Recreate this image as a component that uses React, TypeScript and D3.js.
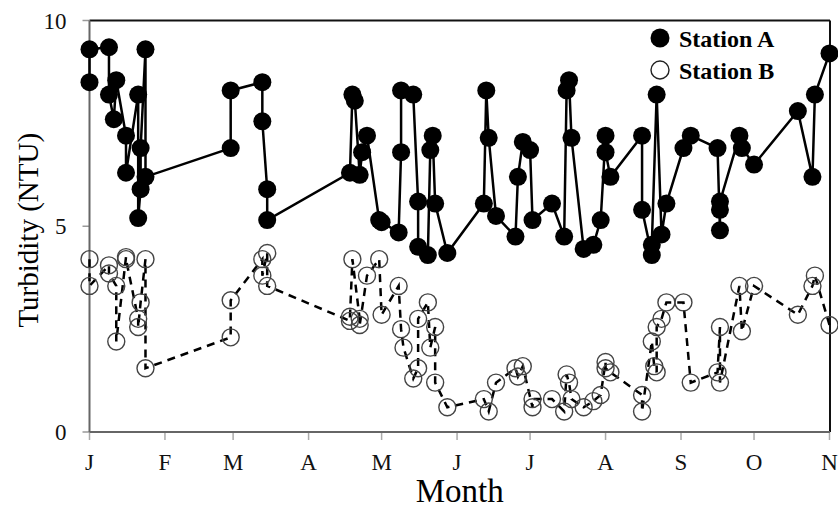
import { useMemo } from 'react';
import * as d3 from 'd3';

// sample dates (MM-DD, one year) and turbidity readings
const stationADates = [
  '01-01', '01-01', '01-09', '01-09', '01-11', '01-12', '01-16', '01-16', '01-21', '01-21',
  '01-22', '01-22', '01-24', '01-24', '02-28', '02-28', '03-13', '03-13', '03-15', '03-15',
  '04-18', '04-19', '04-20', '04-22', '04-23', '04-25', '04-30', '05-01', '05-08', '05-09',
  '05-09', '05-14', '05-16', '05-16', '05-20', '05-21', '05-22', '05-23', '05-28', '06-12',
  '06-13', '06-14', '06-17', '06-25', '06-26', '06-28', '07-01', '07-02', '07-10', '07-15',
  '07-16', '07-17', '07-18', '07-23', '07-27', '07-30', '08-01', '08-01', '08-03', '08-16',
  '08-16', '08-20', '08-20', '08-22', '08-24', '08-26', '09-02', '09-05', '09-16', '09-17',
  '09-17', '09-17', '09-25', '09-26', '10-01', '10-19', '10-25', '10-26', '11-01',
];
const stationAValues = [
  8.5, 9.3, 9.35, 8.2, 7.6, 8.55, 7.2, 6.3, 8.2, 5.2,
  5.9, 6.9, 9.3, 6.2, 6.9, 8.3, 8.5, 7.55, 5.9, 5.15,
  6.3, 8.2, 8.05, 6.25, 6.8, 7.2, 5.15, 5.1, 4.85, 6.8,
  8.3, 8.2, 5.6, 4.5, 4.3, 6.85, 7.2, 5.55, 4.35, 5.55,
  8.3, 7.15, 5.25, 4.75, 6.2, 7.05, 6.85, 5.15, 5.55, 4.75,
  8.3, 8.55, 7.15, 4.45, 4.55, 5.15, 7.2, 6.8, 6.2, 7.2,
  5.4, 4.3, 4.55, 8.2, 4.8, 5.55, 6.9, 7.2, 6.9, 4.9,
  5.4, 5.6, 7.2, 6.9, 6.5, 7.8, 6.2, 8.2, 9.2,
];

const stationBDates = [
  '01-01', '01-01', '01-09', '01-09', '01-12', '01-12', '01-16', '01-16', '01-21', '01-21',
  '01-22', '01-24', '01-24', '02-28', '02-28', '03-13', '03-13', '03-15', '03-15', '04-18',
  '04-18', '04-19', '04-22', '04-22', '04-25', '04-30', '05-01', '05-08', '05-09', '05-10',
  '05-14', '05-16', '05-16', '05-20', '05-21', '05-23', '05-23', '05-28', '06-12', '06-14',
  '06-17', '06-25', '06-26', '06-28', '07-02', '07-02', '07-10', '07-15', '07-16', '07-17',
  '07-18', '07-23', '07-27', '07-30', '08-01', '08-01', '08-03', '08-16', '08-16', '08-20',
  '08-21', '08-22', '08-22', '08-24', '08-26', '09-02', '09-05', '09-16', '09-17', '09-17',
  '09-25', '09-26', '10-01', '10-19', '10-25', '10-26', '11-01',
];
const stationBValues = [
  4.2, 3.55, 4.05, 3.85, 3.55, 2.2, 4.25, 4.2, 2.75, 2.55,
  3.15, 4.2, 1.55, 2.3, 3.2, 4.2, 3.8, 4.35, 3.55, 2.7,
  2.8, 4.2, 2.75, 2.6, 3.8, 4.2, 2.85, 3.55, 2.5, 2.05,
  1.3, 1.55, 2.75, 3.15, 2.05, 2.55, 1.2, 0.6, 0.8, 0.5,
  1.2, 1.55, 1.35, 1.6, 0.6, 0.8, 0.8, 0.5, 1.4, 1.2,
  0.8, 0.6, 0.75, 0.9, 1.7, 1.55, 1.45, 0.9, 0.5, 2.2,
  1.6, 1.45, 2.55, 2.75, 3.15, 3.15, 1.2, 1.45, 2.55, 1.2,
  3.55, 2.45, 3.55, 2.85, 3.55, 3.8, 2.6,
];

const yTicks = [0, 5, 10];
const monthLetters = ['J', 'F', 'M', 'A', 'M', 'J', 'J', 'A', 'S', 'O', 'N'];

const width = 838;
const height = 510;
const margin = { top: 20.5, right: 8, bottom: 78, left: 89.5 };
const font = '"Liberation Serif", "Times New Roman", serif';

type Point = { date: Date; value: number };

const parseDay = d3.timeParse('%Y-%m-%d');
const toPoints = (dates: string[], values: number[]): Point[] =>
  dates.map((d, i) => ({ date: parseDay(`2011-${d}`) as Date, value: values[i] }));

export default function App() {
  const seriesA = useMemo(() => toPoints(stationADates, stationAValues), []);
  const seriesB = useMemo(() => toPoints(stationBDates, stationBValues), []);

  const x = d3.scaleTime()
    .domain([new Date(2011, 0, 1), new Date(2011, 10, 1)])
    .range([margin.left, width - margin.right - 0.5]);
  const y = d3.scaleLinear()
    .domain([0, 10])
    .range([height - margin.bottom, margin.top]);

  const line = d3.line<Point>()
    .x(d => x(d.date))
    .y(d => y(d.value));

  const monthTicks = x.ticks(d3.timeMonth.every(1)!);
  const x0 = margin.left;
  const x1 = width - margin.right;
  const y0 = y(0);
  const y1 = margin.top;

  return (
    <div style={{ position: 'absolute', left: 0, top: 0 }}>
      <svg width={width} height={height} style={{ display: 'block', background: '#fff' }}>
        {/* frame: top and right in black, left and bottom axes grey */}
        <line x1={x0} x2={x1} y1={y1} y2={y1} stroke="#111" strokeWidth={2} />
        <line x1={x1} x2={x1} y1={y1} y2={y0} stroke="#111" strokeWidth={2} />

        {/* y ticks */}
        {yTicks.map(t => (
          <g key={t}>
            <line x1={x0 - 7} x2={x0} y1={y(t)} y2={y(t)} stroke="#999" strokeWidth={1.5} />
            <text x={x0 - 23} y={y(t)} dy="0.35em" textAnchor="end"
              fontFamily={font} fontSize={23} fill="#111">{t}</text>
          </g>
        ))}

        {/* x ticks */}
        {monthTicks.map((t, i) => (
          <g key={i}>
            <line x1={x(t)} x2={x(t)} y1={y0} y2={y0 + 8} stroke="#aaa" strokeWidth={1.5} />
            <text x={x(t)} y={y0 + 38} textAnchor="middle"
              fontFamily={font} fontSize={23} fill="#111">{monthLetters[i]}</text>
          </g>
        ))}

        <line x1={x0} x2={x0} y1={y1} y2={y0} stroke="#666" strokeWidth={2} />
        <line x1={x0} x2={x1} y1={y0} y2={y0} stroke="#666" strokeWidth={2} />

        {/* station B: dashed line, open circles */}
        <path d={line(seriesB) ?? ''} fill="none" stroke="#000" strokeWidth={2.5}
          strokeDasharray="8,6" />
        {seriesB.map((d, i) => (
          <circle key={i} cx={x(d.date)} cy={y(d.value)} r={8.5}
            fill="none" stroke="#444" strokeWidth={1.4} />
        ))}

        {/* station A: solid line, filled circles */}
        <path d={line(seriesA) ?? ''} fill="none" stroke="#000" strokeWidth={2.5} />
        {seriesA.map((d, i) => (
          <circle key={i} cx={x(d.date)} cy={y(d.value)} r={9} fill="#000" />
        ))}

        {/* legend */}
        <circle cx={660} cy={38} r={9.5} fill="#000" />
        <text x={679} y={47} fontFamily={font} fontSize={24} fontWeight="bold" fill="#000">Station A</text>
        <circle cx={660} cy={70} r={9} fill="#fff" stroke="#222" strokeWidth={1.4} />
        <text x={679} y={79} fontFamily={font} fontSize={24} fontWeight="bold" fill="#000">Station B</text>

        {/* axis titles */}
        <text transform={`translate(38,${(y0 + y1) / 2 + 4}) rotate(-90)`} textAnchor="middle"
          fontFamily={font} fontSize={29} fill="#000">Turbidity (NTU)</text>
        <text x={(x0 + x1) / 2} y={502} textAnchor="middle"
          fontFamily={font} fontSize={33} fill="#000">Month</text>
      </svg>
    </div>
  );
}
